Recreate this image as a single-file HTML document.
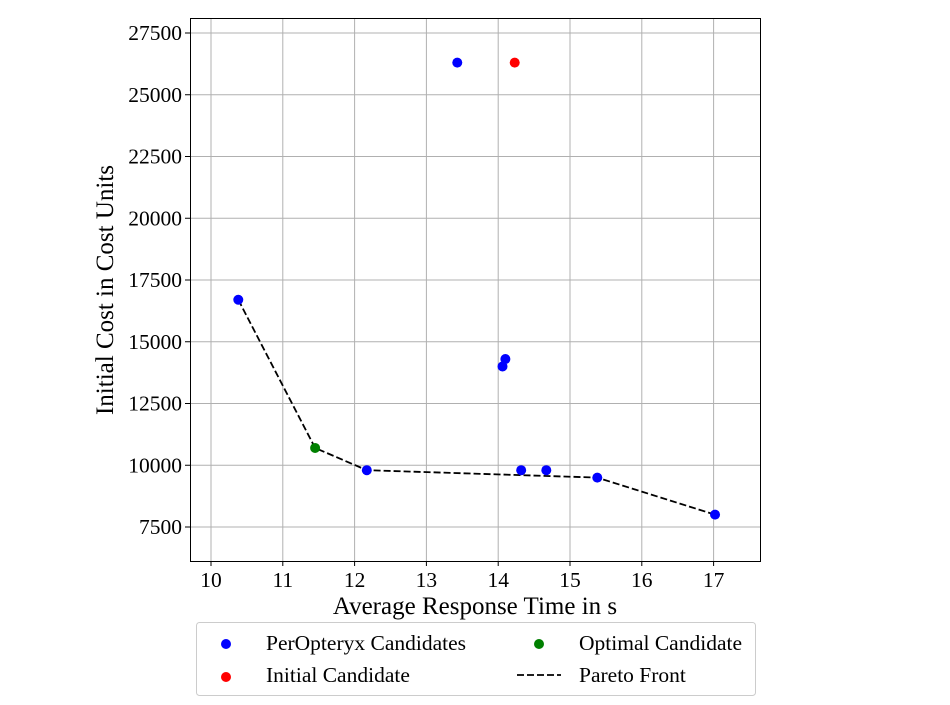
<!DOCTYPE html>
<html><head><meta charset="utf-8"><style>
body{margin:0;background:#fff;}
svg text{font-family:"Liberation Serif",serif;fill:#000;}
</style></head><body>
<svg width="950" height="700" xmlns="http://www.w3.org/2000/svg">
<g id="grid"></g>
<g id="xticks"></g>
<g id="yticks"></g>
<path id="pareto" fill="none" stroke="#000" stroke-width="1.8" stroke-dasharray="7,3"/>
<g id="pts"></g>
<rect x="190.5" y="18.5" width="570" height="543" fill="none" stroke="#000" stroke-width="1"/>
<text x="475" y="614" font-size="25" text-anchor="middle">Average Response Time in s</text>
<text transform="translate(113,290) rotate(-90)" font-size="25" text-anchor="middle">Initial Cost in Cost Units</text>
<g>
<rect x="196.5" y="622.5" width="559" height="73" rx="3" fill="#fff" stroke="#ccc"/>
<circle cx="226" cy="644" r="5" fill="#0000ff"/>
<text x="266" y="650" font-size="21.5">PerOpteryx Candidates</text>
<circle cx="226" cy="677" r="5" fill="#ff0000"/>
<text x="266" y="682" font-size="21.5">Initial Candidate</text>
<circle cx="539" cy="644" r="5" fill="#008000"/>
<text x="579" y="650" font-size="21.5">Optimal Candidate</text>
<line x1="517" y1="675" x2="561" y2="675" stroke="#000" stroke-width="1.8" stroke-dasharray="7,3"/>
<text x="579" y="682" font-size="21.5">Pareto Front</text>
</g>
</svg>
<script>
const xTicks=[10,11,12,13,14,15,16,17];
const yTicks=[7500,10000,12500,15000,17500,20000,22500,25000,27500];
const blueX=[13.43,10.38,14.06,14.10,12.17,14.32,14.67,15.38,17.02];
const blueY=[26300,16700,14000,14300,9800,9800,9800,9500,8000];
const redX=[14.23];const redY=[26300];
const greenX=[11.45];const greenY=[10700];
const paretoX=[10.38,11.45,12.17,15.38,17.02];
const paretoY=[16700,10700,9800,9500,8000];
const NS="http://www.w3.org/2000/svg";
const sx=v=>211+(v-10)*71.8;
const sy=v=>527-(v-7500)*0.0247;
const grid=document.getElementById('grid'),xt=document.getElementById('xticks'),yt=document.getElementById('yticks'),pts=document.getElementById('pts');
function mk(tag,attrs,parent){const e=document.createElementNS(NS,tag);for(const k in attrs)e.setAttribute(k,attrs[k]);parent.appendChild(e);return e;}
xTicks.forEach(t=>{const x=sx(t);
const g=mk('line',{x1:x,x2:x,y1:18,y2:561,stroke:'#b0b0b0','stroke-width':1},grid);


const tk=mk('line',{x1:x,x2:x,y1:561,y2:566,stroke:'#000'},xt);


const tx=mk('text',{x:x,y:587,'font-size':21.5,'text-anchor':'middle'},xt);tx.textContent=t;

});
yTicks.forEach(t=>{const y=sy(t);
const g=mk('line',{x1:190,x2:760,y1:y,y2:y,stroke:'#b0b0b0','stroke-width':1},grid);


const tk=mk('line',{x1:185,x2:190,y1:y,y2:y,stroke:'#000'},yt);


const tx=mk('text',{x:182,y:y+7,'font-size':21.5,'text-anchor':'end'},yt);tx.textContent=t;

});
document.getElementById('pareto').setAttribute('d',paretoX.map((v,i)=>(i?'L':'M')+sx(v)+','+sy(paretoY[i])).join(''));
function dots(X,Y,c,n){X.forEach((v,i)=>{const d=mk('circle',{cx:sx(v),cy:sy(Y[i]),r:5,fill:c},pts);

});}
dots(blueX,blueY,'#0000ff','peropteryx-point');
dots(redX,redY,'#ff0000','initial-point');
dots(greenX,greenY,'#008000','optimal-point');
</script>
</body></html>
